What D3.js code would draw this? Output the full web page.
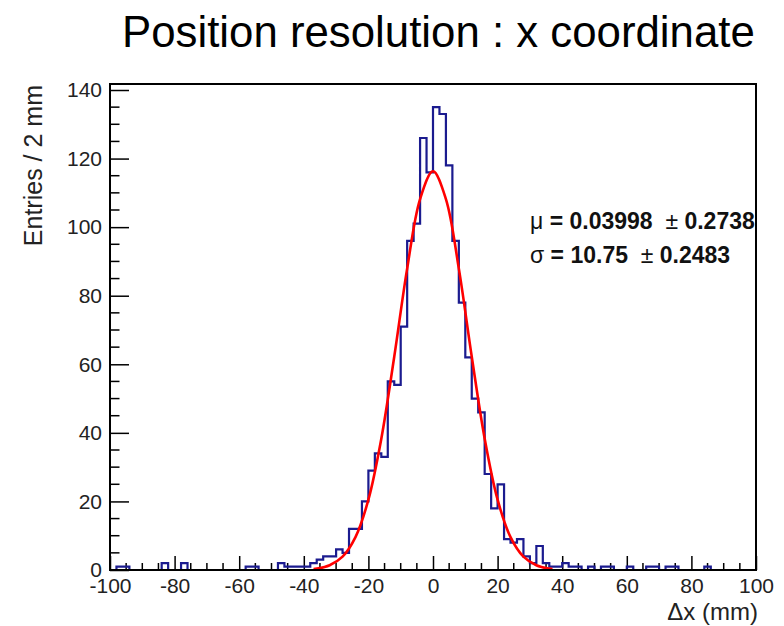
<!DOCTYPE html>
<html>
<head>
<meta charset="utf-8">
<script src="https://cdn.jsdelivr.net/npm/d3@7"></script>
<style>
body{margin:0;background:#fff}
svg{display:block}
text{font-family:"Liberation Sans",Arial,Helvetica,sans-serif}
</style>
</head>
<body>
<svg id="chart" width="784" height="626"></svg>
<script>
// histogram: 100 bins of 2 mm from -100 to 100
var binLow=-100, binWidth=2;
var counts=[
  0,1,1,0,0,0,0,0,2,0,
  0,2,0,0,0,0,0,0,0,0,
  0,1,1,0,0,0,2,1,1,1,
  1,2,3,4,4,6,5,12,12,20,
  29,34,33,55,54,71,96,101,126,116,
  135,133,118,96,78,62,50,46,28,18,
  25,9,8,9,4,2,7,2,1,1,
  2,1,1,0,1,0,1,1,0,0,
  1,0,0,1,1,0,1,1,0,0,
  0,0,1,0,0,0,0,0,0,0
];
// gaussian fit curve
var fitX=[-37,-36,-32,-28,-24,-20,-16,-12,-8,-4,0,4,8,12,16,20,24,28,32,36,37];
var fitY=[0.3,0.4,1.4,3.9,9.6,20.5,38.3,62.2,87.9,108.2,116.3,108.2,87.9,62.2,38.3,20.5,9.6,3.9,1.4,0.4,0.3];

var xTicks=[-100,-80,-60,-40,-20,0,20,40,60,80,100];
var yTicks=[0,20,40,60,80,100,120,140];

var title="Position resolution : x coordinate";
var xTitle="\u0394x (mm)";
var yTitle="Entries / 2 mm";
var statSymbols=["\u03bc","\u03c3"];
var statValues=["0.03998","10.75"];
var statErrors=["0.2738","0.2483"];

var frame={left:110,right:756,top:84,bottom:570};
var svg=d3.select("#chart");

var xScale=d3.scaleLinear().domain([binLow,binLow+binWidth*counts.length]).range([frame.left,frame.right]);
var yScale=d3.scaleLinear().domain([0,d3.max(counts)*1.05]).range([frame.bottom,frame.top]);

// title, fitted to its width in the picture
var t=svg.append("text").attr("x",122).attr("y",47).attr("font-size",44).attr("fill","#000").text(title);
var tw=t.node().getComputedTextLength();
t.attr("font-size",44*633/tw);

// minor ticks
var xMinor=d3.range(-100,100.1,5).filter(v=>v%20!==0);
svg.append("g").selectAll("line").data(xMinor).enter().append("line")
  .attr("x1",d=>xScale(d)).attr("x2",d=>xScale(d))
  .attr("y1",frame.bottom).attr("y2",frame.bottom-7)
  .attr("stroke","#000").attr("stroke-width",1.5);
var yMinor=d3.range(0,141,5).filter(v=>v%20!==0);
svg.append("g").selectAll("line").data(yMinor).enter().append("line")
  .attr("y1",d=>yScale(d)).attr("y2",d=>yScale(d))
  .attr("x1",frame.left).attr("x2",frame.left+9.5)
  .attr("stroke","#000").attr("stroke-width",1.5);

// axes (plain hyphen minus like the original)
var fmt=d=>String(d);
var xAxis=d3.axisBottom(xScale).tickValues(xTicks).tickFormat(fmt).tickSizeInner(-14).tickSizeOuter(0).tickPadding(8);
var yAxis=d3.axisLeft(yScale).tickValues(yTicks).tickFormat(fmt).tickSizeInner(-19).tickSizeOuter(0).tickPadding(8);
var gx=svg.append("g").attr("transform","translate(0,"+frame.bottom+")").call(xAxis);
var gy=svg.append("g").attr("transform","translate("+frame.left+",0)").call(yAxis);
[gx,gy].forEach(g=>{
  g.select(".domain").remove();
  g.selectAll("line").attr("stroke","#000").attr("stroke-width",1.5);
  g.selectAll("text").attr("font-size",21).attr("fill","#222")
    .style("font-family",'"Liberation Sans",Arial,sans-serif');
});

// histogram outline
var pts=counts.map((c,i)=>[binLow+i*binWidth,c]);
pts.push([binLow+counts.length*binWidth,counts[counts.length-1]]);
var step=d3.line().x(d=>xScale(d[0])).y(d=>yScale(d[1])).curve(d3.curveStepAfter);
svg.append("path").attr("d",step(pts))
  .attr("fill","none").attr("stroke","#1b1b8f").attr("stroke-width",2.2);

// fit
var fitLine=d3.line().x((d,i)=>xScale(fitX[i])).y(d=>yScale(d)).curve(d3.curveCatmullRom.alpha(0.5));
svg.append("path").attr("d",fitLine(fitY))
  .attr("fill","none").attr("stroke","#f00").attr("stroke-width",2.6);

// frame
svg.append("rect").attr("x",frame.left).attr("y",frame.top)
  .attr("width",frame.right-frame.left).attr("height",frame.bottom-frame.top)
  .attr("fill","none").attr("stroke","#000").attr("stroke-width",2);

// axis titles
svg.append("text").attr("x",758).attr("y",620).attr("text-anchor","end")
  .attr("font-size",24).attr("fill","#222").text(xTitle);
svg.append("text").attr("transform","translate(42,85) rotate(-90)").attr("text-anchor","end")
  .attr("font-size",25).attr("fill","#222").text(yTitle);

// fit parameters
statSymbols.forEach((s,i)=>{
  var tx=svg.append("text").attr("x",530).attr("y",229+i*34).attr("font-size",23)
    .attr("fill","#111").style("white-space","pre");
  tx.append("tspan").text(s);
  tx.append("tspan").attr("font-weight","bold").text(" = "+statValues[i]+"  ");
  tx.append("tspan").text("\u00b1");
  tx.append("tspan").attr("font-weight","bold").text(" "+statErrors[i]);
});
</script>
</body>
</html>
